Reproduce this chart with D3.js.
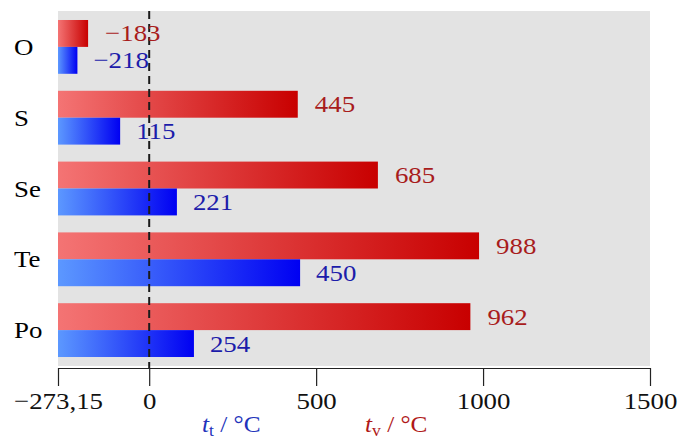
<!DOCTYPE html>
<html><head><meta charset="utf-8">
<script src="https://cdn.jsdelivr.net/npm/d3@7"></script>
<style>
html,body{margin:0;padding:0;background:#fff;}
svg{display:block;}
</style></head>
<body><svg id="c" width="681" height="442"></svg>
<script>
// ---- data ----
const elements = ["O", "S", "Se", "Te", "Po"];
// boiling point t_v (°C), red bars
const boilValues = [-183, 445, 685, 988, 962];
const boilLabels = ["−183", "445", "685", "988", "962"];
// melting point t_t (°C): bar lengths as drawn in the picture, and the printed labels
const meltBars = [-215, -87, 83, 452, 134];
const meltLabels = ["−218", "115", "221", "450", "254"];
const tickValues = [-273.15, 0, 500, 1000, 1500];
const tickLabels = ["−273,15", "0", "500", "1000", "1500"];

const FONT = "Liberation Serif";
const svg = d3.select("#c");
const x = d3.scaleLinear().domain([-273.15, 1500]).range([58, 650]);
const y = d3.scaleBand().domain(elements).range([11, 366]).paddingInner(0.24).paddingOuter(0.127);
const sub = d3.scaleBand().domain(["v", "t"]).range([0, y.bandwidth()]);

const defs = svg.append("defs");
const gr = defs.append("linearGradient").attr("id", "gRed").attr("x1", 0).attr("x2", 1).attr("y1", 0).attr("y2", 0);
gr.append("stop").attr("offset", "0%").attr("stop-color", "#f47474");
gr.append("stop").attr("offset", "100%").attr("stop-color", "#c80000");
const gb = defs.append("linearGradient").attr("id", "gBlue").attr("x1", 0).attr("x2", 1).attr("y1", 0).attr("y2", 0);
gb.append("stop").attr("offset", "0%").attr("stop-color", "#5c98ff");
gb.append("stop").attr("offset", "100%").attr("stop-color", "#0000f2");

// background
svg.append("rect").attr("x", x(-273.15)).attr("y", 11)
  .attr("width", x(1500) - x(-273.15)).attr("height", 355).attr("fill", "#e3e3e3");

const SX = 1.12;
function stretchedText(g, px, py, txt, size, color, anchor) {
  return g.append("g").attr("transform", `translate(${px},${py}) scale(${SX},1)`)
    .append("text").attr("x", 0).attr("y", 0)
    .style("font-family", FONT)
    .attr("font-size", size).attr("fill", color)
    .attr("text-anchor", anchor || "start")
    .attr("dominant-baseline", "central")
    .text(txt);
}

const bars = svg.append("g");
elements.forEach((el, i) => {
  const y0 = y(el);
  bars.append("rect").attr("x", x(-273.15)).attr("y", y0 + sub("v"))
    .attr("width", x(boilValues[i]) - x(-273.15)).attr("height", sub.bandwidth())
    .attr("fill", "url(#gRed)");
  bars.append("rect").attr("x", x(-273.15)).attr("y", y0 + sub("t"))
    .attr("width", x(meltBars[i]) - x(-273.15)).attr("height", sub.bandwidth())
    .attr("fill", "url(#gBlue)");
});

// dashed zero line
svg.append("line").attr("x1", x(0)).attr("x2", x(0)).attr("y1", 11).attr("y2", 368)
  .attr("stroke", "#1a1a1a").attr("stroke-width", 2).attr("stroke-dasharray", "8,5");

const labels = svg.append("g");
elements.forEach((el, i) => {
  const y0 = y(el);
  stretchedText(labels, x(boilValues[i]) + 17, y0 + sub("v") + sub.bandwidth() / 2, boilLabels[i], 24, "#a81c1c");
  stretchedText(labels, x(meltBars[i]) + 16, y0 + sub("t") + sub.bandwidth() / 2, meltLabels[i], 24, "#1c1caa");
  stretchedText(labels, 14, y0 + y.bandwidth() / 2, el, 24, "#000");
});

// x axis
const axis = d3.axisBottom(x).tickValues(tickValues).tickFormat((d, i) => tickLabels[i])
  .tickSize(18).tickSizeOuter(0).tickPadding(4);
const ax = svg.append("g").attr("transform", "translate(0,368)").call(axis);
ax.select(".domain").attr("stroke", "#222").attr("stroke-width", 1.2);
ax.selectAll(".tick line").attr("stroke", "#222").attr("stroke-width", 1.2);
ax.selectAll(".tick text")
  .attr("x", 0).attr("y", 0).attr("dy", null)
  .style("font-family", FONT)
  .attr("font-size", 24).attr("fill", "#111")
  .attr("text-anchor", "middle")
  .attr("transform", `translate(0,41) scale(${SX},1)`);

// axis titles
function title(px, sym, subc, color) {
  const t = svg.append("g").attr("transform", `translate(${px},432) scale(1.1,1)`)
    .append("text").style("font-family", FONT).attr("font-size", 23).attr("fill", color);
  t.append("tspan").attr("font-style", "italic").text(sym);
  t.append("tspan").attr("font-size", 16).attr("dy", 4).text(subc);
  t.append("tspan").attr("dy", -4).text(" / °C");
}
title(202, "t", "t", "#2233bb");
title(365, "t", "v", "#b01818");
</script></body></html>
